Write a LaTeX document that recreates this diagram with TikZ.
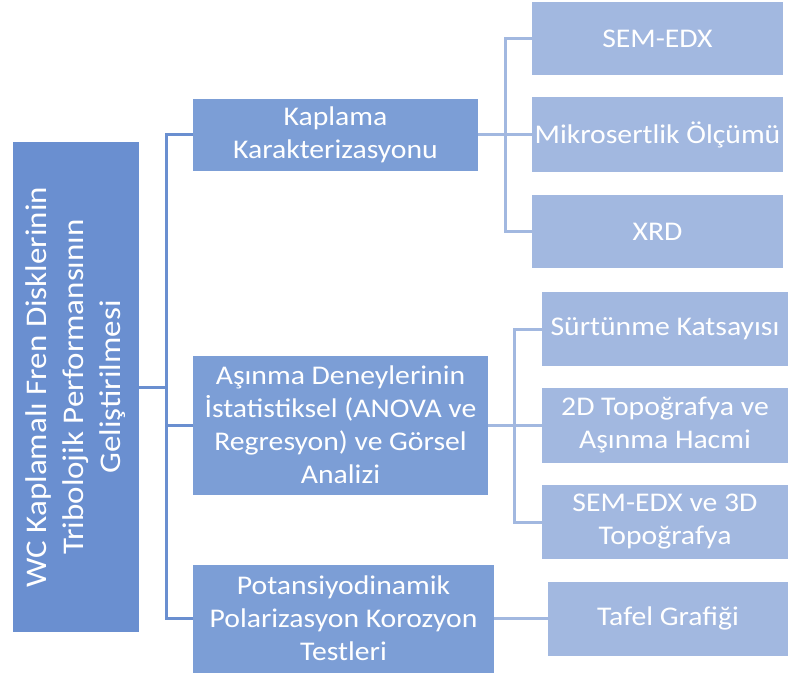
\documentclass[tikz,border=0pt]{standalone}
\usepackage{fontspec}
\setmainfont{Carlito}[FakeStretch=1.1]
\definecolor{rootc}{HTML}{6A8FD0}
\definecolor{lvla}{HTML}{7C9ED6}
\definecolor{lvlb}{HTML}{A2B8E0}
\begin{document}
\begin{tikzpicture}[x=1pt,y=-1pt,
  box/.style={rectangle, inner sep=0pt, text=white, align=center,
    font=\fontsize{27}{33}\selectfont},
  rootbox/.style={box, fill=rootc, font=\fontsize{30}{37}\selectfont},
  boxa/.style={box, fill=lvla},
  boxb/.style={box, fill=lvlb},
  linea/.style={draw=rootc, line width=3pt},
  lineb/.style={draw=lvlb, line width=3pt}]
\useasboundingbox (0,0) rectangle (790,679);
% root
\node[rootbox, rotate=90, minimum width=490pt, minimum height=126pt] (root) at (76,387)
  {WC Kaplamalı Fren Disklerinin\\Tribolojik Performansının\\Geliştirilmesi};
% level 1
\node[boxa, minimum width=285pt, minimum height=72pt] (k1) at (335.5,135) {Kaplama\\Karakterizasyonu};
\node[boxa, minimum width=295pt, minimum height=139pt] (k2) at (340.5,425) {Aşınma Deneylerinin\\İstatistiksel (ANOVA ve\\Regresyon) ve Görsel\\Analizi};
\node[boxa, minimum width=301pt, minimum height=108pt] (k3) at (343.5,618.5) {Potansiyodinamik\\Polarizasyon Korozyon\\Testleri};
% level 2
\node[boxb, minimum width=251pt, minimum height=73pt] (s1) at (657.5,38.5) {SEM-EDX};
\node[boxb, minimum width=251pt, minimum height=75pt] (s2) at (657.5,135) {Mikrosertlik Ölçümü};
\node[boxb, minimum width=251pt, minimum height=73pt] (s3) at (657.5,231.5) {XRD};
\node[boxb, minimum width=246pt, minimum height=74pt] (t1) at (665,329) {Sürtünme Katsayısı};
\node[boxb, minimum width=246pt, minimum height=75pt] (t2) at (665,425) {2D Topoğrafya ve\\Aşınma Hacmi};
\node[boxb, minimum width=246pt, minimum height=74pt] (t3) at (665,522) {SEM-EDX ve 3D\\Topoğrafya};
\node[boxb, minimum width=240pt, minimum height=74pt] (u1) at (668,618.5) {Tafel Grafiği};
% connectors
\coordinate (b0) at (166,387);
\coordinate (b1) at (505,135);
\coordinate (b2) at (514,425);
\draw[linea] (root.south) -- (b0);
\draw[linea] (k1.west) -| (b0) |- (k3.west);
\draw[linea] (b0) |- (k2.west);
\draw[lineb] (k1.east) -- (b1);
\draw[lineb] (s1.west) -| (b1) |- (s3.west);
\draw[lineb] (b1) -- (s2.west);
\draw[lineb] (k2.east) -- (b2);
\draw[lineb] (t1.west) -| (b2) |- (t3.west);
\draw[lineb] (b2) -- (t2.west);
\draw[lineb] (k3.east) -- (u1.west);
\end{tikzpicture}
\end{document}
